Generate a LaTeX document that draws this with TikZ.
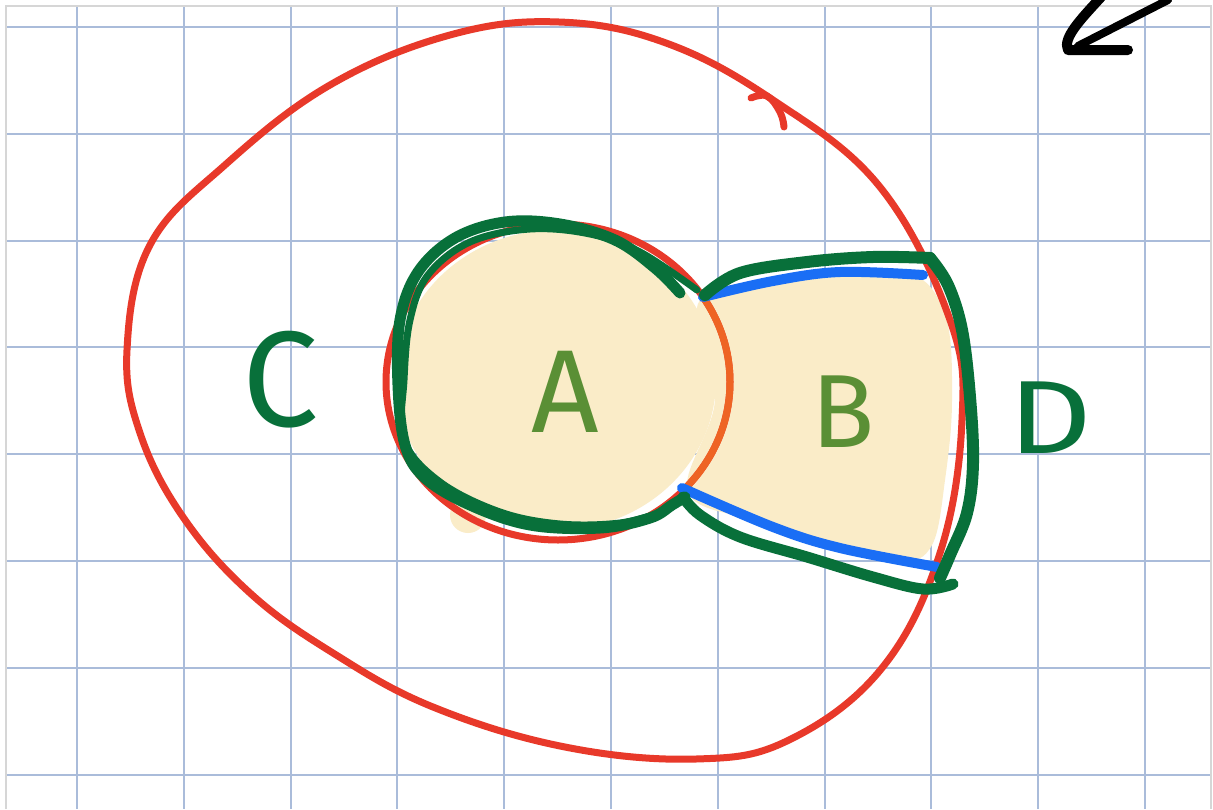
\documentclass[tikz,border=0pt]{standalone}
\usepackage{fontspec}
\setsansfont{Fira Sans}
\usepackage{tikz}
\usetikzlibrary{calc}
\usepackage{xcolor}
\definecolor{gridblue}{HTML}{AABCDA}
\definecolor{framegray}{HTML}{D6D6D6}
\definecolor{penred}{HTML}{E8392A}
\definecolor{penorange}{HTML}{EE6424}
\definecolor{pengreen}{HTML}{08703A}
\definecolor{penolive}{HTML}{5A8F35}
\definecolor{penblue}{HTML}{1A6EF5}
\definecolor{fillbeige}{HTML}{FAECC8}

\begin{document}
\begin{tikzpicture}[x=1pt, y=-1pt,
    gridline/.style={gridblue, line width=2pt},
    redpen/.style={penred, line width=7pt, line cap=round, line join=round},
    greenpen/.style={pengreen, line width=11pt, line cap=round, line join=round},
    bluepen/.style={penblue, line width=10pt, line cap=round},
    letter/.style={inner sep=0pt, font=\sffamily},
  ]
    \useasboundingbox[fill=white] (0,0) rectangle (1213,809);

    % squared paper
    \foreach \gx in {0,...,10}
      \draw[gridline] ({77+106.8*\gx},6) -- ({77+106.8*\gx},809);
    \foreach \gy in {0,...,7}
      \draw[gridline] (6,{27+106.8*\gy}) -- (1211,{27+106.8*\gy});
    \draw[framegray, line width=2pt] (6,809) -- (6,6) -- (1211,6) -- (1211,809);

    % shaded region
    \fill[fillbeige] (556,380) ellipse [x radius=160, y radius=150];
    \fill[fillbeige] plot[smooth cycle, tension=0.6] coordinates {
      (700,300) (800,278) (905,272) (945,315) (952,400)
      (945,480) (932,545) (900,562) (830,548) (760,522) (688,492) (715,400)};
    \fill[fillbeige] (468,515) circle [radius=18];

    % outer loop C
    \draw[redpen] plot[smooth cycle, tension=0.65] coordinates {
      (127,350) (150,245) (225,165) (330,85) (450,35) (559,22)
      (666,43) (773,100) (880,187) (950,320) (962,420) (940,553)
      (882,668) (789,740) (696,759) (565,747) (433,707) (333,653)
      (250,593) (183,517) (140,433)};
    \draw[redpen] plot[smooth, tension=0.7] coordinates {
      (751,98) (767,96) (780,112) (784,127)};

    % inner loop A
    \draw[redpen] (558,382) ellipse [x radius=172, y radius=158];
    \draw[redpen, penorange] (558,382) ++(-33:172 and 158)
      arc[start angle=-33, end angle=42, x radius=172, y radius=158];

    % cuts
    \draw[bluepen] plot[smooth, tension=0.6] coordinates {
      (703,297) (773,281) (840,272) (923,275)};
    \draw[bluepen] plot[smooth, tension=0.6] coordinates {
      (682,488) (773,527) (840,548) (937,567)};

    % green outline round A
    \draw[greenpen] plot[smooth, tension=0.6] coordinates {
      (680,293) (655,268) (615,240) (560,224) (505,222) (455,238)
      (418,272) (400,320) (398,385) (405,445) (425,478) (470,505)
      (530,525) (600,528) (650,518) (672,505) (685,497)};
    \draw[greenpen, line width=7pt] plot[smooth, tension=0.6] coordinates {
      (697,290) (640,252) (590,234) (530,229) (470,242) (428,275)
      (410,320) (404,380) (404,440) (440,482) (500,512) (560,524)
      (620,523) (662,512)};

    % green outline round B
    \draw[greenpen, line width=12pt] plot[smooth, tension=0.6] coordinates {
      (705,295) (740,273) (807,262) (873,257) (930,258)};
    \draw[greenpen, line width=12pt] plot[smooth, tension=0.6] coordinates {
      (930,258) (948,285) (962,330) (970,397) (973,463) (967,513)
      (950,555) (940,578)};
    \draw[greenpen] plot[smooth, tension=0.6] coordinates {
      (953,584) (923,589) (873,577) (807,557) (740,537) (700,515) (683,497)};

    % labels
    \node[letter, text=penolive, font=\sffamily\fontsize{118}{118}\selectfont]
      (labelA) at (565,392) {A};
    \node[letter, text=penolive, font=\sffamily\fontsize{104}{104}\selectfont]
      (labelB) at (843,412) {B};
    \node[letter, text=pengreen, font=\sffamily\fontsize{136}{136}\selectfont]
      (labelC) at (281,380) {C};
    \node[letter, text=pengreen, font=\sffamily\fontsize{104}{104}\selectfont,
      xscale=1.25] (labelD) at (1050,418) {D};

    % arrow at the top edge
    \draw[black, line width=10pt, line cap=round, line join=round]
      (1102,-4) .. controls (1082,18) and (1062,38) .. (1068,50)
      -- (1128,50);
    \draw[black, line width=8pt, line cap=round] (1168,0) -- (1078,46);
\end{tikzpicture}
\end{document}
